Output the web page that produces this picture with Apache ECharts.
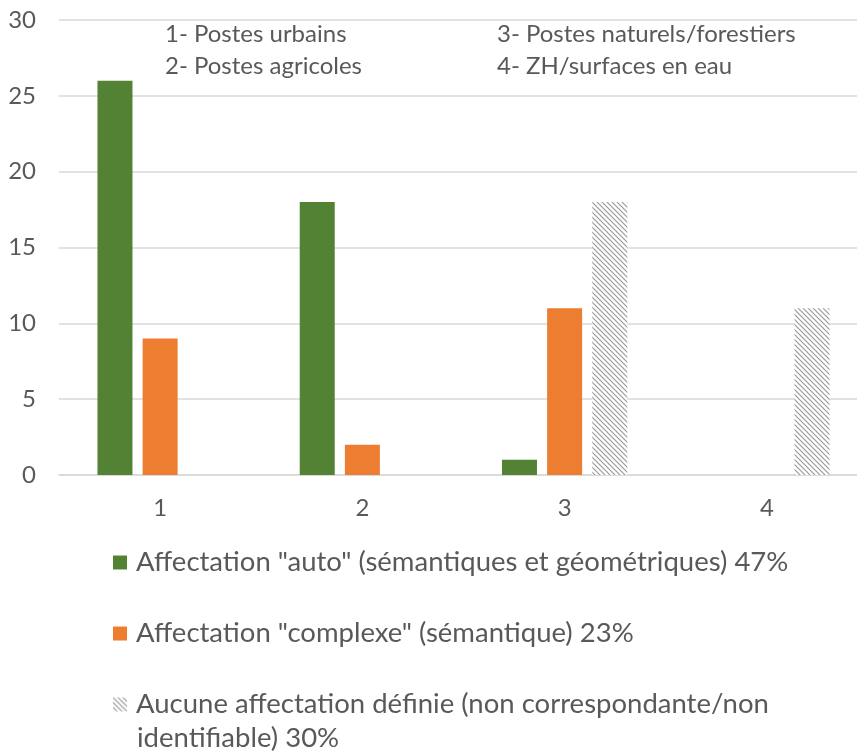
<!DOCTYPE html>
<html>
<head>
<meta charset="utf-8">
<script src="https://cdn.jsdelivr.net/npm/echarts@6/dist/echarts.min.js"></script>
<style>
  html, body { margin: 0; padding: 0; background: #fff; overflow: hidden; }
  #chart { width: 870px; height: 752px; }
</style>
</head>
<body>
<div id="chart"></div>
<script>
const categories = ['1', '2', '3', '4']
const autoValues = [26, 18, 1, 0]
const complexeValues = [9, 2, 11, 0]
const aucuneValues = [0, 0, 18, 11]
const seriesNames = [
  'Affectation "auto" (sémantiques et géométriques) 47%',
  'Affectation "complexe" (sémantique) 23%',
  'Aucune affectation définie (non correspondante/non identifiable) 30%'
]
const notes = ['1- Postes urbains', '2- Postes agricoles', '3- Postes naturels/forestiers', '4- ZH/surfaces en eau']

const FONT = 'Lato'
const TEXT = '#595959'

// diagonal hatch for the third series
const hatch = document.createElement('canvas')
hatch.width = 5
hatch.height = 5
const ctx = hatch.getContext('2d')
ctx.fillStyle = '#fff'
ctx.fillRect(0, 0, 5, 5)
ctx.strokeStyle = '#9a9a9a'
ctx.lineWidth = 1.2
ctx.beginPath()
ctx.moveTo(0, 0); ctx.lineTo(5, 5)
ctx.moveTo(-3, 2); ctx.lineTo(3, 8)
ctx.moveTo(2, -3); ctx.lineTo(8, 3)
ctx.stroke()

const chart = echarts.init(document.getElementById('chart'))

const bar = (name, data, color) => ({
  name: name,
  type: 'bar',
  data: data.map(v => v === 0 ? null : v),
  barWidth: 35,
  barGap: '29%',
  itemStyle: { color: color }
})

const note = (i, x, y) => ({
  type: 'text', left: x, top: y,
  style: { text: notes[i], fill: TEXT, fontSize: 24, fontFamily: FONT }
})

chart.setOption({
  animation: false,
  textStyle: { fontFamily: FONT },
  grid: { left: 59, right: 2, top: 20, height: 455, containLabel: false },
  xAxis: {
    type: 'category',
    data: categories,
    axisTick: { show: false },
    axisLine: { lineStyle: { color: '#d9d9d9', width: 1.5 } },
    axisLabel: { color: TEXT, fontSize: 24, fontFamily: FONT, margin: 21 }
  },
  yAxis: {
    type: 'value',
    min: 0,
    max: 30,
    interval: 5,
    axisLine: { show: false },
    axisTick: { show: false },
    splitLine: { lineStyle: { color: '#d9d9d9', width: 1.5 } },
    axisLabel: { color: TEXT, fontSize: 24, fontFamily: FONT, margin: 23 }
  },
  legend: {
    orient: 'vertical',
    left: 108,
    top: 540,
    height: 300,
    itemWidth: 14,
    itemHeight: 14,
    itemGap: 36,
    icon: 'rect',
    textStyle: { color: TEXT, fontSize: 27.5, fontFamily: FONT, lineHeight: 35, padding: [0, 0, 0, 4] },
    formatter: name => name === seriesNames[2] ? 'Aucune affectation définie (non correspondante/non' : name,
    data: seriesNames
  },
  graphic: [
    note(0, 165, 22),
    note(1, 165, 54),
    note(2, 497, 22),
    note(3, 497, 54),
    { type: 'text', left: 137, top: 724, style: { text: 'identifiable) 30%', fill: TEXT, fontSize: 27.5, fontFamily: FONT } }
  ],
  series: [
    bar(seriesNames[0], autoValues, '#548235'),
    bar(seriesNames[1], complexeValues, '#ed7d31'),
    bar(seriesNames[2], aucuneValues, { image: hatch, repeat: 'repeat' })
  ]
})
</script>
</body>
</html>
